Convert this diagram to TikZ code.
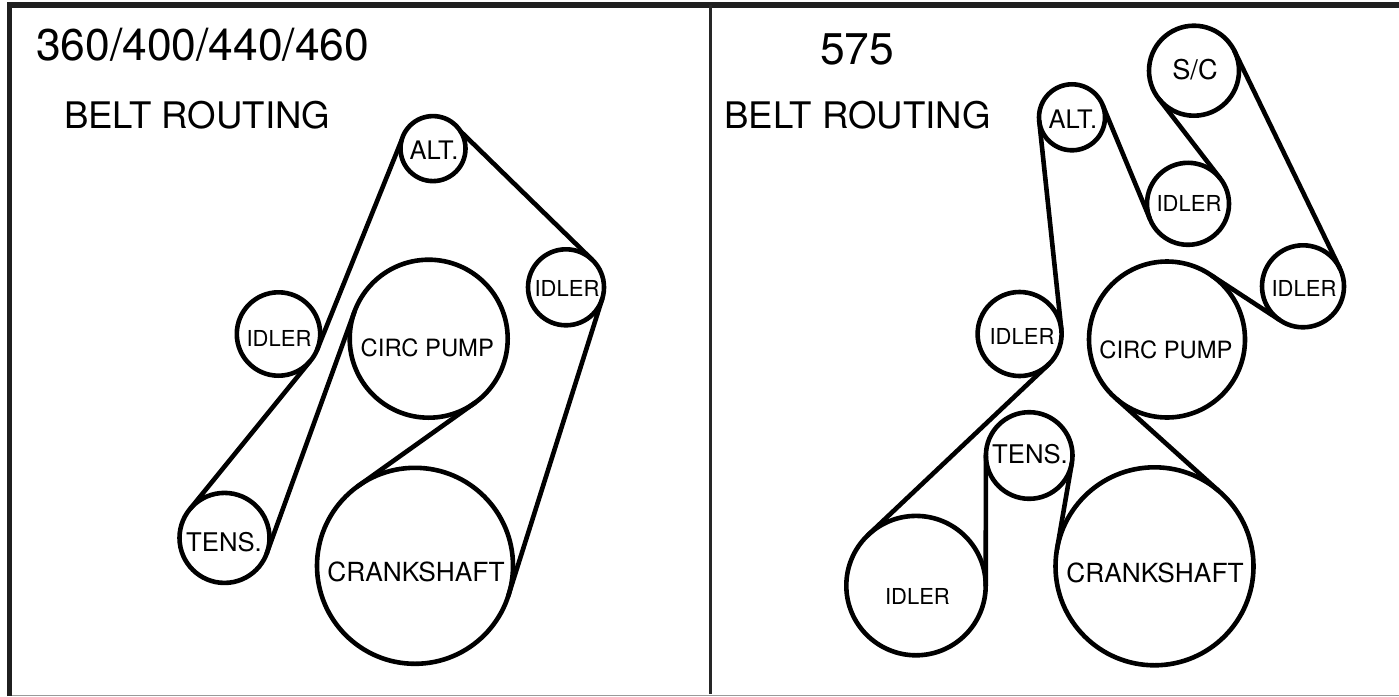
\documentclass[tikz,border=0pt]{standalone}
\usepackage{fontspec}
\setmainfont{TeX Gyre Heros}
\begin{document}
\begin{tikzpicture}[x=1pt,y=-1pt,inner sep=0pt,outer sep=0pt,line width=4.6pt,line cap=round,
pulley/.style={draw,circle,minimum size=#1},
title/.style={anchor=base west,font=\fontsize{44.4}{44}\selectfont},
heading/.style={anchor=base west,font=\fontsize{36.6}{36}\selectfont},
tag/.style={anchor=base,font=\fontsize{#1}{#1}\selectfont}]
\useasboundingbox (0,0) rectangle (1399,696);

% frame
\draw[line width=5.5pt,line cap=butt,color=black!88] (9.7,696) -- (9.7,5) -- (1399,5);
\draw[line width=3pt,line cap=butt,color=black!85] (710,5) -- (710,694);
\draw[line width=1.2pt,line cap=butt,color=black!40] (12,695.4) -- (1399,695.4);

\node[title] (titleL) at (36,60) {360/400/440/460};
\node[heading] (headL) at (64,128.8) {BELT ROUTING};
\node[title] (titleR) at (820,64.3) {575};
\node[heading] (headR) at (724.5,128.8) {BELT ROUTING};

% left engine
\node[pulley=65pt] (altL) at (433,148.6) {};
\node[pulley=76pt] (idlerA) at (566,287.3) {};
\node[pulley=158pt] (circL) at (428.7,338.7) {};
\node[pulley=83.4pt] (idlerB) at (278.5,334) {};
\node[pulley=90pt] (tensL) at (224.5,537.9) {};
\node[pulley=196pt] (crankL) at (415,565.8) {};

\node[tag=25.5] (altLtxt) at (434,159.8) {ALT.};
\node[tag=22] (idlerAtxt) at (567,296) {IDLER};
\node[tag=23.8] (circLtxt) at (427.3,356) {CIRC PUMP};
\node[tag=22] (idlerBtxt) at (279,346) {IDLER};
\node[tag=25.7] (tensLtxt) at (224,551.3) {TENS.};
\node[tag=26.3] (crankLtxt) at (416,581) {CRANKSHAFT};

\draw (altL.165) -- (idlerB.-22);
\draw (idlerB.-41) -- (tensL.139);
\draw (tensL.-20) -- (circL.160);
\draw (circL.-54) -- (crankL.126);
\draw (crankL.-18) -- (idlerA.-18);
\draw (idlerA.47) -- (altL.32);

% right engine
\node[pulley=90pt] (sc) at (1194,70.7) {};
\node[pulley=66pt] (altR) at (1072,117.3) {};
\node[pulley=82pt] (idlerC) at (1188,203.8) {};
\node[pulley=82pt] (idlerD) at (1303,286.3) {};
\node[pulley=156pt] (circR) at (1167,339.5) {};
\node[pulley=84pt] (idlerE) at (1019.6,334) {};
\node[pulley=86.6pt] (tensR) at (1029.2,455.5) {};
\node[pulley=198pt] (crankR) at (1154.5,566.3) {};
\node[pulley=139.4pt] (idlerF) at (916,585.6) {};

\node[tag=27.2] (sctxt) at (1195,79) {S/C};
\node[tag=25.5] (altRtxt) at (1072.8,128.8) {ALT.};
\node[tag=22] (idlerCtxt) at (1189,211.3) {IDLER};
\node[tag=22] (idlerDtxt) at (1304,296) {IDLER};
\node[tag=23.8] (circRtxt) at (1166,358) {CIRC PUMP};
\node[tag=22] (idlerEtxt) at (1022,344.4) {IDLER};
\node[tag=25.7] (tensRtxt) at (1030,463.5) {TENS.};
\node[tag=26.3] (crankRtxt) at (1155,582.3) {CRANKSHAFT};
\node[tag=22] (idlerFtxt) at (917.4,604) {IDLER};

\draw (altR.186) -- (idlerE.6);
\draw (idlerE.-46) -- (idlerF.134);
\draw (idlerF.0) -- (tensR.180);
\draw (tensR.-10) -- (crankR.170);
\draw (crankR.50) -- (circR.230);
\draw (circR.55) -- (idlerD.235);
\draw (idlerD.26) -- (sc.26);
\draw (sc.219) -- (idlerC.39);
\draw (idlerC.201) -- (altR.21);
\end{tikzpicture}
\end{document}
